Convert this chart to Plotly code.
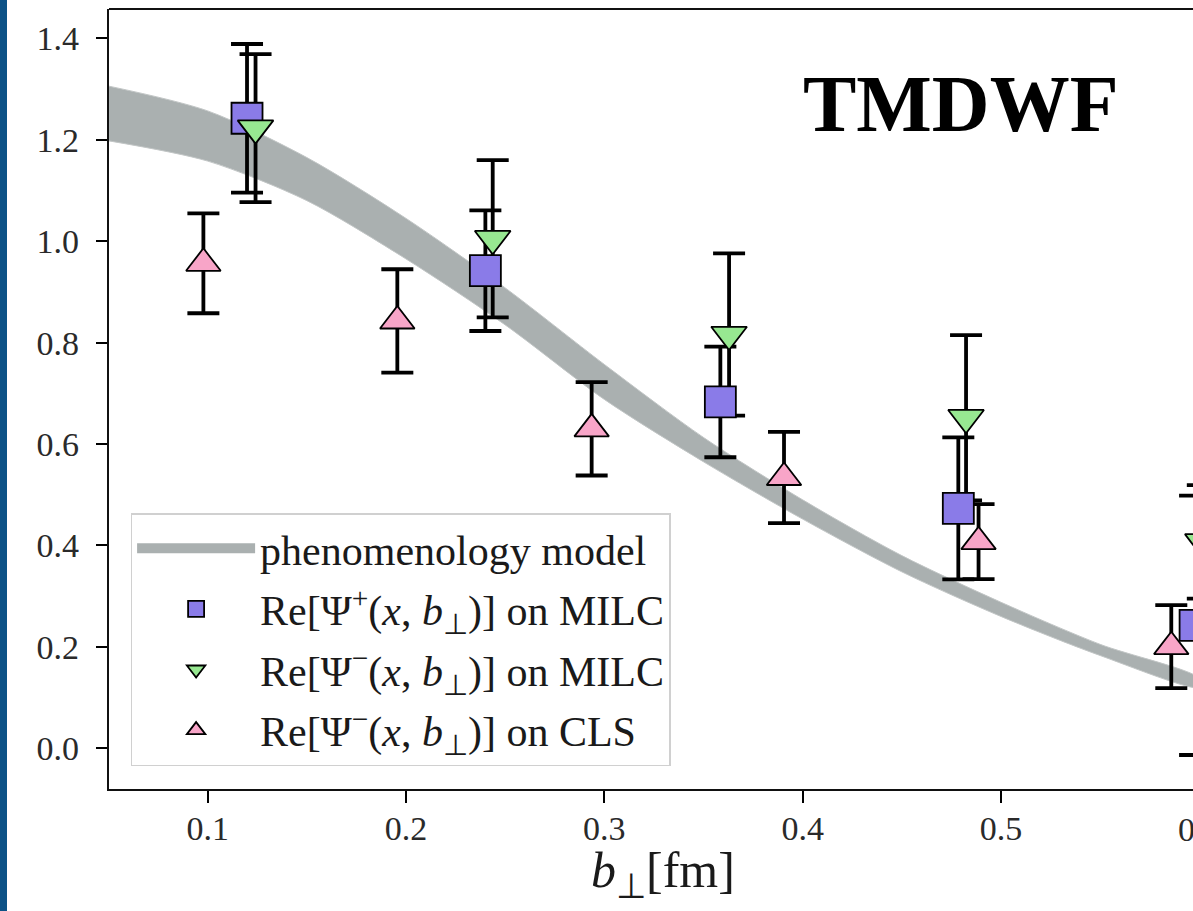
import plotly.graph_objects as go

# ---------------- data ----------------
band_x = [0.05, 0.10, 0.15, 0.20, 0.25, 0.30, 0.35, 0.40, 0.45, 0.50, 0.55, 0.60]
band_upper = [1.306, 1.257, 1.165, 1.045, 0.908, 0.757, 0.613, 0.490, 0.380, 0.288, 0.205, 0.138]
band_lower = [1.198, 1.158, 1.080, 0.965, 0.835, 0.688, 0.565, 0.452, 0.348, 0.260, 0.183, 0.120]

milc_plus_x = [0.1198, 0.2400, 0.3585, 0.4785, 0.5979]
milc_plus_y = [1.2425, 0.942, 0.683, 0.473, 0.2425]
milc_plus_err = [0.1465, 0.119, 0.109, 0.140, 0.2557]

milc_minus_x = [0.1241, 0.2437, 0.3629, 0.4824, 0.6018]
milc_minus_y = [1.223, 1.005, 0.816, 0.652, 0.407]
milc_minus_err = [0.146, 0.155, 0.160, 0.163, 0.112]

cls_minus_x = [0.0978, 0.1956, 0.2936, 0.3906, 0.4887, 0.5859]
cls_minus_y = [0.9565, 0.8427, 0.630, 0.534, 0.4075, 0.2005]
cls_minus_err = [0.0985, 0.102, 0.092, 0.090, 0.074, 0.082]

x_ticks = [0.1, 0.2, 0.3, 0.4, 0.5]
y_ticks = [0.0, 0.2, 0.4, 0.6, 0.8, 1.0, 1.2, 1.4]

labels = [
    "phenomenology model",
    "Re[Ψ<sup>+</sup>(<i>x</i>, <i>b</i><sub>⊥</sub>)] on MILC",
    "Re[Ψ<sup>−</sup>(<i>x</i>, <i>b</i><sub>⊥</sub>)] on MILC",
    "Re[Ψ<sup>−</sup>(<i>x</i>, <i>b</i><sub>⊥</sub>)] on CLS",
]

# ---------------- style ----------------
SERIF = "Liberation Serif, Times New Roman, serif"
C_BAND = "#aab0b0"
C_BLUE = "#8a7be8"
C_GREEN = "#97e891"
C_PINK = "#f8a5c8"

fig = go.Figure()

# band as one closed polygon (upper edge forward, lower edge back)
fig.add_trace(go.Scatter(
    x=band_x + band_x[::-1], y=band_upper + band_lower[::-1],
    mode="lines", fill="toself", fillcolor=C_BAND,
    line=dict(color="#c2c6c6", width=1, shape="spline", smoothing=0.8),
    name=labels[0], legendgroup="band", showlegend=False, hoverinfo="skip"))
# legend entry for the band (thick patch)
fig.add_trace(go.Scatter(
    x=[None], y=[None], mode="lines",
    line=dict(color=C_BAND, width=10),
    name=labels[0], legendgroup="band", showlegend=True))

series = [
    (milc_plus_x, milc_plus_y, milc_plus_err, "square", C_BLUE, 31, labels[1], "plus_milc"),
    (milc_minus_x, milc_minus_y, milc_minus_err, "triangle-down", C_GREEN, 31, labels[2], "minus_milc"),
    (cls_minus_x, cls_minus_y, cls_minus_err, "triangle-up", C_PINK, 30, labels[3], "minus_cls"),
]

# error bars first (all below the markers, as in the original)
for xs, ys, es, sym, col, sz, lab, grp in series:
    fig.add_trace(go.Scatter(
        x=xs, y=ys, mode="markers",
        marker=dict(size=1, color="rgba(0,0,0,0)"),
        error_y=dict(type="data", array=es, visible=True, color="black",
                     thickness=3.8, width=16),
        legendgroup=grp, showlegend=False, hoverinfo="skip"))

# markers
for xs, ys, es, sym, col, sz, lab, grp in series:
    fig.add_trace(go.Scatter(
        x=xs, y=ys, mode="markers",
        marker=dict(symbol=sym, size=sz, color=col,
                    line=dict(color="black", width=1.8)),
        name=lab, legendgroup=grp))

# plot-area geometry (pixels)
W, H = 1193, 911
L, R, T, B = 109, 0, 9, 122
pw = W - L - R
ph = H - T - B

fig.update_layout(
    width=W, height=H,
    margin=dict(l=L, r=R, t=T, b=B, pad=0),
    paper_bgcolor="white", plot_bgcolor="white",
    font=dict(family=SERIF, color="#222222"),
    showlegend=True,
    legend=dict(
        x=(130.6 - L) / pw, y=(H - B - 513) / ph,
        xanchor="left", yanchor="top", traceorder="grouped",
        bgcolor="white", bordercolor="#d0d0d0", borderwidth=1.5,
        font=dict(family=SERIF, size=42, color="#1a1a1a"),
        itemwidth=118, tracegroupgap=3,
    ),
    xaxis=dict(
        range=[0.0502, 0.0502 + pw / 1983.0],
        tickvals=x_ticks, ticktext=[f"{v:.1f}" for v in x_ticks],
        ticks="outside", ticklen=12, tickwidth=1.5, tickcolor="black",
        showline=True, linecolor="#111111", linewidth=2.2,
        showgrid=False, zeroline=False,
        tickfont=dict(family=SERIF, size=34, color="#2a2a2a"),
        ticklabelstandoff=-4,
    ),
    yaxis=dict(
        range=[-0.0803, 1.458],
        tickvals=y_ticks, ticktext=[f"{v:.1f}" for v in y_ticks],
        ticks="outside", ticklen=11, tickwidth=1.5, tickcolor="black",
        showline=True, linecolor="#111111", linewidth=2.2,
        showgrid=False, zeroline=False,
        tickfont=dict(family=SERIF, size=34, color="#2a2a2a"),
        ticklabelstandoff=10,
    ),
    shapes=[
        # top spine
        dict(type="line", xref="paper", yref="paper", x0=0, x1=1, y0=1, y1=1,
             line=dict(color="#111111", width=2.2)),
        # dark blue strip at the left edge of the page
        dict(type="rect", xref="paper", yref="paper",
             x0=-L / pw, x1=(7 - L) / pw, y0=-B / ph, y1=(ph + T) / ph,
             fillcolor="#0c5286", line=dict(width=0), layer="above"),
    ],
    annotations=[
        dict(text="<b>TMDWF</b>", xref="paper", yref="paper",
             x=(961 - L) / pw, y=(H - B - 104) / ph, xanchor="center", yanchor="middle",
             showarrow=False, font=dict(family=SERIF, size=80, color="black")),
        dict(text="<i>b</i><sub>⊥</sub>[fm]", xref="paper", yref="paper",
             x=(663 - L) / pw, y=-(874 - (H - B)) / ph, xanchor="center", yanchor="middle",
             showarrow=False, font=dict(family=SERIF, size=50, color="#1a1a1a")),
        dict(text="0.6", xref="paper", yref="paper",
             x=(1199 - L) / pw, y=-(829 - (H - B)) / ph, xanchor="center", yanchor="middle",
             showarrow=False, font=dict(family=SERIF, size=34, color="#2a2a2a")),
    ],
)

fig.write_html("out.html")
